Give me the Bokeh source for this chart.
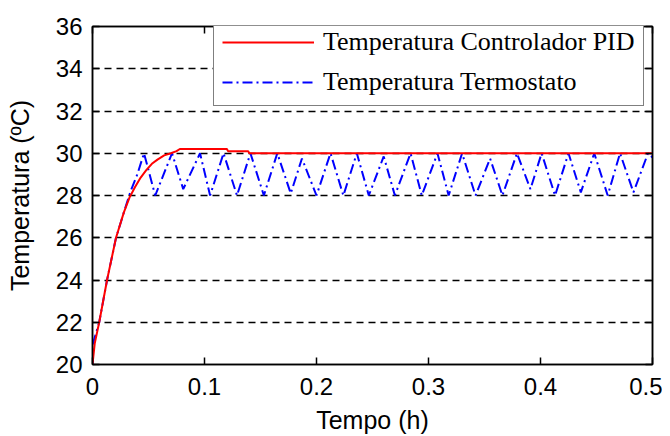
from bokeh.plotting import figure
from bokeh.models import LinearAxis, FixedTicker, Legend, LegendItem, Range1d
from bokeh.embed import file_html
from bokeh.resources import INLINE

# PID controller temperature
t_pid = [0, 0.002, 0.006, 0.013, 0.021, 0.028, 0.033, 0.038, 0.043, 0.048, 0.053,
         0.058, 0.064, 0.070, 0.075, 0.078, 0.120, 0.121, 0.139, 0.140, 0.5]
temp_pid = [20, 21, 22, 24, 26, 27.2, 27.9, 28.4, 28.85, 29.2, 29.5,
            29.7, 29.9, 30.0, 30.1, 30.2, 30.2, 30.1, 30.1, 30.0, 30.0]

# Thermostat temperature
t_thermo = [0, 0.001, 0.006, 0.013, 0.021, 0.028, 0.034, 0.040, 0.046,
            0.056, 0.071, 0.081, 0.096, 0.105, 0.117, 0.129, 0.141, 0.153, 0.165,
            0.177, 0.187, 0.200, 0.2125, 0.224, 0.236, 0.2467, 0.260, 0.270, 0.284,
            0.294, 0.308, 0.318, 0.330, 0.342, 0.355, 0.366, 0.379, 0.391, 0.401,
            0.413, 0.425, 0.436, 0.448, 0.460, 0.471, 0.483, 0.496, 0.500]
temp_thermo = [20, 21.1, 22, 24, 26, 27.2, 28.2, 29.0, 30.0,
               28.0, 30.0, 28.3, 30.0, 28.0, 30.0, 28.0, 30.0, 28.0, 30.0,
               28.1, 29.75, 28.0, 30.0, 28.0, 30.0, 28.0, 29.85, 28.0, 30.0,
               28.0, 30.0, 28.0, 30.0, 28.0, 29.75, 28.0, 30.0, 28.3, 30.0,
               28.0, 30.0, 28.15, 30.0, 28.0, 30.0, 28.15, 30.0, 29.8]

x_ticks = [0, 0.1, 0.2, 0.3, 0.4, 0.5]
y_ticks = [20, 22, 24, 26, 28, 30, 32, 34, 36]
grid_levels = [22, 24, 26, 28, 30, 32, 34]

label_pid = "Temperatura Controlador PID"
label_thermo = "Temperatura Termostato"

p = figure(width=662, height=436, output_backend="svg",
           toolbar_location=None, x_range=Range1d(0, 0.5), y_range=Range1d(20, 36),
           min_border_left=92, min_border_right=10, min_border_top=26,
           min_border_bottom=70, x_axis_label="Tempo (h)",
           y_axis_label="Temperatura (ºC)")
p.background_fill_color = "white"
p.border_fill_color = "white"
p.outline_line_color = "black"
p.outline_line_width = 1.5

p.xgrid.visible = False
p.ygrid.ticker = FixedTicker(ticks=grid_levels)
p.ygrid.grid_line_color = "black"
p.ygrid.grid_line_dash = "7 5"
p.ygrid.grid_line_width = 1.5

for ax in [p.xaxis[0], p.yaxis[0]]:
    ax.axis_line_color = "black"
    ax.axis_line_width = 1.5
    ax.major_tick_in = 7
    ax.major_tick_out = 0
    ax.major_tick_line_width = 1.5
    ax.minor_tick_line_color = None
    ax.major_label_text_font = "Liberation Sans"
    ax.major_label_text_font_size = "24px"
    ax.major_label_text_color = "black"
    ax.axis_label_text_font = "Liberation Sans"
    ax.axis_label_text_font_size = "25px"
    ax.axis_label_text_font_style = "normal"
    ax.axis_label_text_color = "black"

p.xaxis[0].ticker = FixedTicker(ticks=x_ticks)
p.xaxis[0].major_label_overrides = {0: "0", 0.1: "0.1", 0.2: "0.2", 0.3: "0.3", 0.4: "0.4", 0.5: "0.5"}
p.xaxis[0].major_label_standoff = 13
p.xaxis[0].axis_label_standoff = 8
p.yaxis[0].ticker = FixedTicker(ticks=y_ticks)
p.yaxis[0].major_label_standoff = 10
p.yaxis[0].axis_label_standoff = 19

top_ax = LinearAxis(ticker=FixedTicker(ticks=x_ticks), major_label_text_color=None,
                    major_label_text_font_size="8px",
                    major_label_standoff=0, major_tick_in=7, major_tick_out=0,
                    minor_tick_line_color=None, axis_line_width=1.5, major_tick_line_width=1.5)
right_ax = LinearAxis(ticker=FixedTicker(ticks=y_ticks), major_label_text_color=None,
                      major_label_text_font_size="8px",
                      major_label_standoff=0, major_tick_in=7, major_tick_out=0,
                      minor_tick_line_color=None, axis_line_width=1.5, major_tick_line_width=1.5)
p.add_layout(top_ax, "above")
p.add_layout(right_ax, "right")

r_thermo = p.line(t_thermo, temp_thermo, line_color="#0000ff", line_width=2,
                  line_dash="10 4 2 4")
r_pid = p.line(t_pid, temp_pid, line_color="#ff0000", line_width=2)

legend = Legend(items=[LegendItem(label=label_pid, renderers=[r_pid]),
                       LegendItem(label=label_thermo, renderers=[r_thermo])],
                location=(121, 258))
legend.label_text_font = "Liberation Serif"
legend.label_text_font_size = "26px"
legend.label_text_color = "black"
legend.glyph_width = 92
legend.glyph_height = 28
legend.label_height = 28
legend.label_standoff = 9
legend.padding = 8
legend.spacing = 10
legend.margin = 0
legend.border_line_color = "black"
legend.border_line_width = 1.5
legend.background_fill_color = "white"
legend.background_fill_alpha = 1.0
p.add_layout(legend, "center")

open("out.html", "w").write(file_html(p, INLINE))
